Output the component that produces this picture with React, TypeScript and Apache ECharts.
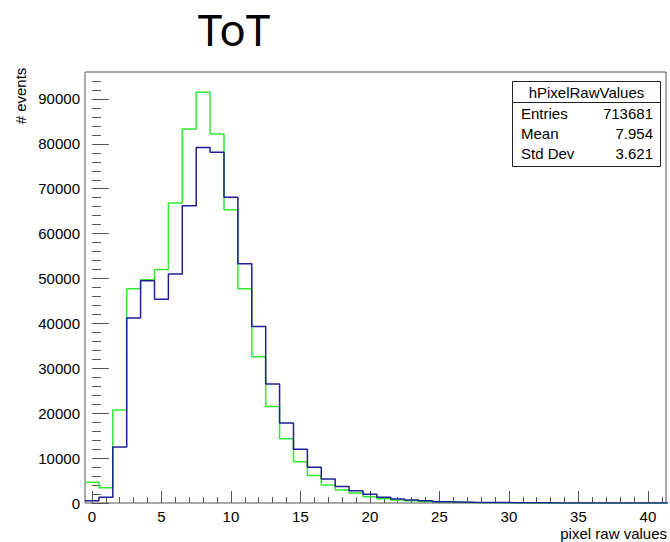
import React, { useEffect, useRef } from "react";
import * as echarts from "echarts";

// Histogram bins: bin i covers [i-0.5, i+0.5]
const binCenters = [
  0, 1, 2, 3, 4, 5, 6, 7, 8, 9, 10, 11, 12, 13, 14, 15, 16, 17, 18, 19, 20,
  21, 22, 23, 24, 25, 26, 27, 28, 29, 30, 31, 32, 33, 34, 35, 36, 37, 38, 39, 40, 41,
];
const greenCounts = [
  4600, 3400, 20700, 47700, 49700, 52000, 66800, 83300, 91500, 82200, 65300,
  47700, 32600, 21500, 14300, 9200, 6100, 4000, 2900, 2200, 1400, 960, 670, 510,
  350, 250, 180, 110, 70, 50, 30, 20, 10, 0, 0, 0, 0, 0, 0, 0, 0, 0,
];
const blueCounts = [
  510, 1270, 12500, 41200, 49500, 45400, 51000, 66200, 79200, 78100, 68100,
  53300, 39300, 26500, 17800, 12000, 7950, 5350, 3650, 2750, 1930, 1270, 890, 670,
  500, 300, 250, 150, 120, 100, 80, 60, 50, 0, 0, 0, 0, 0, 0, 0, 0, 0,
];
const xMajorTicks = [0, 5, 10, 15, 20, 25, 30, 35, 40];
const xMinorTicks = [
  0, 1, 2, 3, 4, 5, 6, 7, 8, 9, 10, 11, 12, 13, 14, 15, 16, 17, 18, 19, 20, 21,
  22, 23, 24, 25, 26, 27, 28, 29, 30, 31, 32, 33, 34, 35, 36, 37, 38, 39, 40, 41,
];
const yMajorTicks = [0, 10000, 20000, 30000, 40000, 50000, 60000, 70000, 80000, 90000];
const yMinorTicks = [
  0, 2000, 4000, 6000, 8000, 10000, 12000, 14000, 16000, 18000, 20000, 22000,
  24000, 26000, 28000, 30000, 32000, 34000, 36000, 38000, 40000, 42000, 44000,
  46000, 48000, 50000, 52000, 54000, 56000, 58000, 60000, 62000, 64000, 66000,
  68000, 70000, 72000, 74000, 76000, 78000, 80000, 82000, 84000, 86000, 88000,
  90000, 92000, 94000,
];
const statsName = "hPixelRawValues";
const statsLabels = ["Entries", "Mean", "Std Dev"];
const statsValues = ["713681", "7.954", "3.621"];
const titleText = "ToT";
const xTitle = "pixel raw values";
const yTitle = "# events";

const X_MIN = -0.5;
const X_MAX = 41.3;
const Y_MAX = 96000;

function stepPoints(counts: number[]): number[][] {
  const pts: number[][] = [];
  binCenters.forEach((c, i) => {
    pts.push([c - 0.5, counts[i]]);
    pts.push([c + 0.5, counts[i]]);
  });
  return pts;
}

const FONT = "Liberation Sans, Arial, Helvetica, sans-serif";

export default function App() {
  const ref = useRef<HTMLDivElement>(null);
  useEffect(() => {
    if (!ref.current) return;
    const chart = echarts.init(ref.current, undefined, { renderer: "svg" });
    const tickColor = "#555";
    const labelStyle = { color: "#000", fontFamily: FONT, fontSize: 15 };
    const rowH = 20;
    const graphic: any[] = [
      {
        type: "text",
        x: 234,
        y: 7,
        style: {
          text: titleText,
          fontFamily: "Noto Sans, sans-serif",
          fontSize: 44,
          fill: "#000",
          align: "center",
          verticalAlign: "top",
        },
      },
      {
        type: "text",
        x: 20,
        y: 96,
        rotation: Math.PI / 2,
        style: {
          text: yTitle,
          fontFamily: FONT,
          fontSize: 15,
          fill: "#000",
          align: "center",
          verticalAlign: "middle",
        },
      },
      {
        type: "text",
        x: 667,
        y: 533,
        style: {
          text: xTitle,
          fontFamily: FONT,
          fontSize: 15,
          fill: "#000",
          align: "right",
          verticalAlign: "middle",
        },
      },
      {
        type: "rect",
        shape: { x: 512.5, y: 81.5, width: 148, height: 85 },
        style: { fill: "#fff", stroke: "#222", lineWidth: 1 },
        z: 10,
      },
      {
        type: "line",
        shape: { x1: 512.5, y1: 102.5, x2: 660.5, y2: 102.5 },
        style: { stroke: "#222", lineWidth: 1 },
        z: 11,
      },
      {
        type: "text",
        x: 586.5,
        y: 92.5,
        z: 11,
        style: {
          text: statsName,
          fontFamily: FONT,
          fontSize: 15,
          fill: "#000",
          align: "center",
          verticalAlign: "middle",
        },
      },
    ];
    statsLabels.forEach((lab, i) => {
      graphic.push({
        type: "text",
        x: 521,
        y: 113 + i * rowH,
        z: 11,
        style: {
          text: lab,
          fontFamily: FONT,
          fontSize: 15,
          fill: "#000",
          align: "left",
          verticalAlign: "middle",
        },
      });
      graphic.push({
        type: "text",
        x: 653,
        y: 113 + i * rowH,
        z: 11,
        style: {
          text: statsValues[i],
          fontFamily: FONT,
          fontSize: 15,
          fill: "#000",
          align: "right",
          verticalAlign: "middle",
        },
      });
    });

    const option: any = {
      animation: false,
      backgroundColor: "#fff",
      grid: {
        left: 85,
        top: 72,
        width: 581,
        height: 431,
        show: true,
        borderColor: "#555",
        borderWidth: 1,
        backgroundColor: "transparent",
        containLabel: false,
        outerBoundsMode: "none",
      },
      xAxis: [
        {
          type: "value",
          min: X_MIN,
          max: X_MAX,
          position: "bottom",
          axisLine: { show: false },
          splitLine: { show: false },
          axisTick: {
            show: true,
            inside: true,
            length: 12,
            customValues: xMajorTicks,
            lineStyle: { color: tickColor, width: 1 },
          },
          axisLabel: {
            show: true,
            customValues: xMajorTicks,
            margin: 6,
            formatter: (v: number) => String(v),
            ...labelStyle,
          },
        },
        {
          type: "value",
          min: X_MIN,
          max: X_MAX,
          position: "bottom",
          axisLine: { show: false },
          splitLine: { show: false },
          axisTick: {
            show: true,
            inside: true,
            length: 6,
            customValues: xMinorTicks,
            lineStyle: { color: tickColor, width: 1 },
          },
          axisLabel: { show: false },
        },
      ],
      yAxis: [
        {
          type: "value",
          min: 0,
          max: Y_MAX,
          position: "left",
          axisLine: { show: false },
          splitLine: { show: false },
          axisTick: {
            show: true,
            inside: true,
            length: 17,
            customValues: yMajorTicks,
            lineStyle: { color: tickColor, width: 1 },
          },
          axisLabel: {
            show: true,
            customValues: yMajorTicks,
            margin: 5,
            formatter: (v: number) => String(v),
            ...labelStyle,
          },
        },
        {
          type: "value",
          min: 0,
          max: Y_MAX,
          position: "left",
          axisLine: { show: false },
          splitLine: { show: false },
          axisTick: {
            show: true,
            inside: true,
            length: 9,
            customValues: yMinorTicks,
            lineStyle: { color: tickColor, width: 1 },
          },
          axisLabel: { show: false },
        },
      ],
      series: [
        {
          type: "line",
          name: "green",
          xAxisIndex: 0,
          yAxisIndex: 0,
          data: stepPoints(greenCounts),
          showSymbol: false,
          symbol: "none",
          lineStyle: { color: "#33e833", width: 1.5 },
          clip: true,
          z: 2,
        },
        {
          type: "line",
          name: "blue",
          xAxisIndex: 0,
          yAxisIndex: 0,
          data: stepPoints(blueCounts),
          showSymbol: false,
          symbol: "none",
          lineStyle: { color: "#1f1f96", width: 1.5 },
          clip: true,
          z: 3,
        },
      ],
      graphic,
    };
    chart.setOption(option);
    return () => chart.dispose();
  }, []);
  return <div ref={ref} style={{ width: 670, height: 542, position: "fixed", left: 0, top: 0 }} />;
}
